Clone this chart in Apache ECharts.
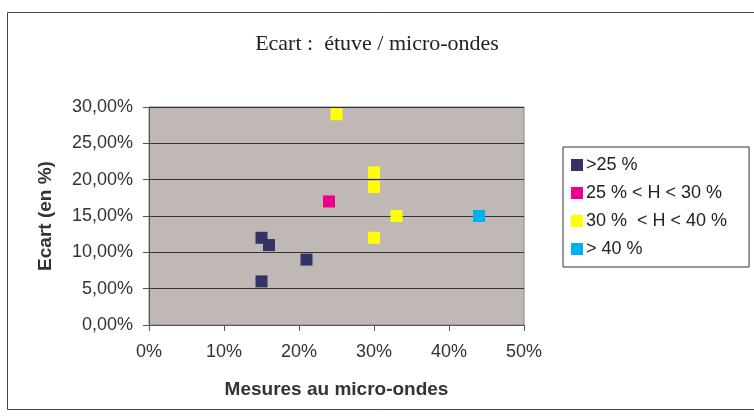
<!DOCTYPE html>
<html>
<head>
<meta charset="utf-8">
<script src="https://cdn.jsdelivr.net/npm/echarts@6/dist/echarts.min.js"></script>
<style>
  html, body { margin: 0; padding: 0; background: #fff; }
  #chart { width: 754px; height: 417px; }
</style>
</head>
<body>
<div id="chart"></div>
<script>
// series names (legend)
var seriesNames = [">25 %", "25 % < H < 30 %", "30 %  < H < 40 %", "> 40 %"];
var seriesColors = ["#333366", "#ec008c", "#ffff00", "#00b0f0"];

// [micro-ondes %, ecart %]
var dataLow = [[15, 12], [16, 11], [21, 9], [15, 6]];
var dataMid = [[24, 17]];
var dataHigh = [[25, 29], [30, 21], [30, 19], [33, 15], [30, 12]];
var dataTop = [[44, 15]];

var allData = [dataLow, dataMid, dataHigh, dataTop];

var chart = echarts.init(document.getElementById("chart"));

var option = {
  animation: false,
  backgroundColor: "#fff",
  title: {
    text: "Ecart :  étuve / micro-ondes",
    left: "center",
    top: 28,
    textStyle: {
      fontFamily: "Liberation Serif",
      fontWeight: "normal",
      fontSize: 22,
      color: "#222"
    }
  },
  graphic: [
    {
      type: "rect",
      shape: { x: 7.5, y: 12.5, width: 760, height: 397 },
      style: { fill: "none", stroke: "#444", lineWidth: 1 },
      silent: true
    }
  ],
  grid: {
    left: 149,
    right: 230,
    top: 107,
    bottom: 92,
    show: true,
    backgroundColor: "#c0b8b5",
    borderColor: "#8c8282",
    borderWidth: 1
  },
  legend: {
    orient: "vertical",
    left: 563,
    top: 147,
    itemWidth: 12,
    itemHeight: 12,
    itemGap: 10,
    padding: [9, 22, 9, 8],
    borderColor: "#333",
    borderWidth: 1,
    icon: "rect",
    textStyle: {
      fontFamily: "Liberation Sans",
      fontSize: 18,
      color: "#222",
      padding: [0, 0, 0, -2]
    },
    data: seriesNames
  },
  xAxis: {
    type: "value",
    min: 0,
    max: 50,
    interval: 10,
    name: "Mesures au micro-ondes",
    nameLocation: "middle",
    nameGap: 55,
    nameTextStyle: {
      fontFamily: "Liberation Sans",
      fontWeight: "bold",
      fontSize: 19,
      color: "#333"
    },
    axisLine: { show: true, lineStyle: { color: "#555" } },
    axisTick: { show: true, length: 6, lineStyle: { color: "#555" } },
    splitLine: { show: false },
    axisLabel: {
      fontFamily: "Liberation Sans",
      fontSize: 18,
      color: "#333",
      margin: 18,
      formatter: function (v) { return v + "%"; }
    }
  },
  yAxis: {
    type: "value",
    min: 0,
    max: 30,
    interval: 5,
    name: "Ecart (en %)",
    nameLocation: "middle",
    nameGap: 94,
    nameTextStyle: {
      fontFamily: "Liberation Sans",
      fontWeight: "bold",
      fontSize: 19,
      color: "#333"
    },
    axisLine: { show: true, lineStyle: { color: "#555" } },
    axisTick: { show: true, length: 6, lineStyle: { color: "#555" } },
    splitLine: { show: true, lineStyle: { color: "#333", width: 1 } },
    axisLabel: {
      fontFamily: "Liberation Sans",
      fontSize: 18,
      color: "#333",
      margin: 16,
      formatter: function (v) { return v.toFixed(2).replace(".", ",") + "%"; }
    }
  },
  series: seriesNames.map(function (name, i) {
    return {
      name: name,
      type: "scatter",
      symbol: "rect",
      symbolSize: 12,
      itemStyle: { color: seriesColors[i], opacity: 1 },
      data: allData[i]
    };
  })
};

chart.setOption(option);
</script>
</body>
</html>
